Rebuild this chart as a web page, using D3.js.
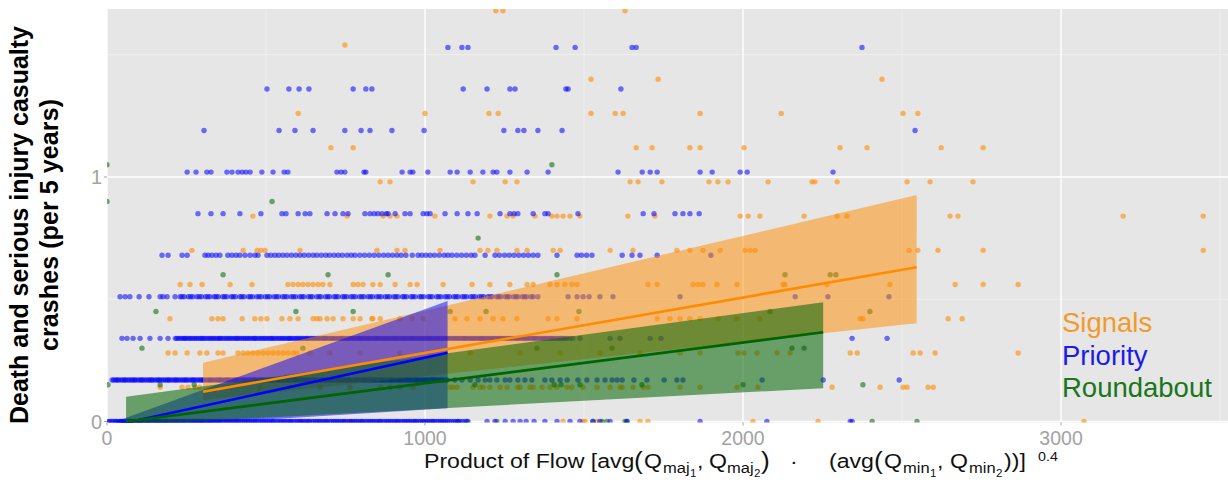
<!DOCTYPE html>
<html>
<head>
<meta charset="utf-8">
<script src="https://cdn.jsdelivr.net/npm/d3@7/dist/d3.min.js"></script>
<style>
body { margin: 0; background: #fff; }
svg { display: block; font-family: 'Liberation Sans', Arial, sans-serif; }
</style>
</head>
<body>
<svg id="chart" width="1228" height="485"></svg>
<script>
// crash rates per row: [y value, x values (product of flow)]
const signalsRows = [
    [0, [610, 765, 1434, 1497, 1503, 1541, 1676, 1701, 2031, 2236, 3072]],
    [0.14, [167, 236, 255, 277, 292, 387, 481, 575, 670, 764, 859, 890, 921, 962, 1079, 1088, 1101, 1151, 1173, 1182, 1204, 1236, 1258, 1292, 1299, 1330, 1340, 1368, 1393, 1415, 1447, 1462, 1497, 1541, 1582, 1613, 1620, 1654, 1686, 1701, 1802, 1865, 1981, 2047, 2280, 2431, 2503, 2516, 2582, 2598]],
    [0.28, [192, 214, 252, 292, 314, 349, 365, 412, 428, 443, 459, 475, 491, 506, 522, 538, 554, 569, 585, 597, 638, 701, 796, 921, 1016, 1142, 1299, 1425, 1550, 1676, 1802, 1865, 1984, 2003, 2044, 2107, 2148, 2337, 2359, 2535, 2557, 2604, 2865]],
    [0.42, [198, 330, 349, 365, 425, 465, 484, 503, 550, 575, 601, 648, 660, 670, 692, 711, 742, 774, 796, 833, 836, 859, 921, 959, 994, 1094, 1132, 1173, 1214, 1245, 1289, 1387, 1415, 1478, 1730, 1770, 1802, 1833, 1865, 1922, 1981, 2053, 2368, 2377, 2645, 2689]],
    [0.56, [230, 261, 299, 387, 456, 569, 585, 601, 616, 632, 648, 664, 679, 701, 774, 789, 805, 836, 859, 906, 953, 975, 1057, 1148, 1204, 1267, 1321, 1340, 1393, 1415, 1440, 1462, 1478, 1701, 1730, 1843, 1859, 1874, 1918, 1981, 2126, 2132, 2264, 2462, 2667, 2755, 2865]],
    [0.70, [267, 428, 472, 484, 497, 607, 849, 912, 937, 1047, 1173, 1198, 1226, 1289, 1321, 1403, 1425, 1582, 1654, 1792, 1833, 1874, 1928, 2006, 2022, 2038, 2522, 2550, 2613, 2755, 3447]],
    [0.84, [459, 755, 868, 890, 912, 1031, 1204, 1258, 1277, 1346, 1399, 1415, 1434, 1456, 1487, 1638, 1723, 1991, 2016, 2053, 2192, 2296, 2327, 2651, 2676, 3195, 3447]],
    [0.98, [859, 890, 1151, 1252, 1289, 1645, 1670, 1745, 1893, 1921, 1953, 2079, 2217, 2226, 2296, 2516, 2588, 2723]],
    [1.12, [704, 774, 1664, 1714, 1833, 1865, 2003, 2305, 2390, 2623, 2755]],
    [1.26, [601, 1000, 1201, 1230, 1522, 1598, 1623, 1865, 2120, 2503, 2550]],
    [1.40, [1522, 1733, 2437]],
    [1.54, [748]],
    [1.68, [1223, 1245, 1629]]
];

const priorityRows = [
    [0, [3, 14, 25, 33, 46, 55, 68, 77, 90, 101, 112, 124, 133, 146, 157, 168, 180, 189, 202, 213, 224, 236, 245, 258, 269, 280, 292, 301, 314, 325, 336, 348, 357, 370, 381, 392, 404, 413, 426, 437, 448, 460, 469, 482, 493, 504, 516, 525, 538, 549, 560, 572, 581, 594, 605, 616, 628, 637, 650, 661, 672, 684, 693, 706, 717, 728, 740, 749, 762, 773, 784, 796, 805, 818, 829, 840, 852, 861, 874, 885, 896, 908, 917, 930, 941, 952, 964, 973, 986, 997, 1008, 1020, 1029, 1042, 1053, 1064, 1076, 1090, 1103, 1118, 1135,
        8, 19, 29, 40, 50, 62, 73, 84, 96, 107, 118, 129, 140, 151, 163, 174, 185, 196, 208, 219, 230, 241, 252, 264, 275, 286, 297, 308, 320, 331, 342, 353, 364, 376, 387, 398, 409, 420, 432, 443, 454, 465, 476, 488, 499, 510, 521, 532, 544, 555, 566, 577, 588, 600, 611, 622, 633, 644, 656, 667, 678, 689, 700, 712, 723, 734, 745, 756, 768, 779, 790, 801, 812, 824, 835, 846, 857, 868, 880, 891, 902, 913, 924, 936, 947, 958, 969, 980, 992, 1003, 1014, 1025, 1036, 1048, 1059, 1070, 1083, 1096, 1110, 1126,
        1195, 1220, 1252, 1277, 1299, 1318, 1343, 1377, 1415, 1456, 1487, 1528, 1550, 1582, 1635, 1865, 2075, 2337, 2343]],
    [0.17, [16, 27, 36, 49, 58, 70, 81, 90, 103, 112, 124, 135, 144, 157, 166, 178, 189, 198, 211, 220, 232, 243, 252, 265, 274, 286, 297, 306, 319, 328, 340, 351, 360, 373, 382, 394, 405, 414, 427, 436, 448, 459, 468, 481, 490, 502, 513, 522, 535, 544, 556, 567, 576, 589, 598, 610, 621, 630, 643, 652, 664, 675, 684, 697, 706, 718, 729, 738, 751, 760, 772, 783, 792, 805, 814, 826, 837, 846, 859, 868, 880, 891, 900, 913, 922, 934, 945, 954, 967, 976, 988, 999, 1008, 1021, 1030, 1042, 1053, 1069,
        21, 32, 43, 54, 64, 76, 86, 97, 108, 118, 130, 140, 151, 162, 172, 184, 194, 205, 216, 226, 238, 248, 259, 270, 280, 292, 302, 313, 324, 334, 346, 356, 367, 378, 388, 400, 410, 421, 432, 442, 454, 464, 475, 486, 496, 508, 518, 529, 540, 550, 562, 572, 583, 594, 604, 616, 626, 637, 648, 658, 670, 680, 691, 702, 712, 724, 734, 745, 756, 766, 778, 788, 799, 810, 820, 832, 842, 853, 864, 874, 886, 896, 907, 918, 928, 940, 950, 961, 972, 982, 994, 1004, 1015, 1026, 1036, 1048, 1060,
        1094, 1116, 1142, 1167, 1189, 1204, 1226, 1252, 1267, 1292, 1314, 1336, 1377, 1399, 1425, 1447, 1481, 1509, 1541, 1566, 1588, 1604, 1620, 1657, 1698, 1752, 1792, 1811, 2060, 2252, 2491]],
    [0.34, [47, 63, 82, 104, 135, 167, 192, 215, 226, 238, 247, 259, 270, 281, 293, 302, 314, 325, 336, 348, 357, 369, 380, 391, 403, 412, 424, 435, 446, 458, 467, 479, 490, 501, 513, 522, 534, 545, 556, 568, 577, 589, 600, 611, 623, 632, 644, 655, 666, 678, 687, 699, 710, 721, 733, 742, 754, 765, 776, 788, 797, 809, 820, 831, 843, 852, 864, 875, 886, 898, 907, 919, 930, 941, 953, 962, 974, 985, 996, 1008, 1017, 1029, 1040, 1051, 1063, 1072, 1084, 1095, 1106, 1118, 1127, 1139, 1150, 1161, 1173, 1182, 1194, 1205, 1216, 1228, 1237, 1249, 1260, 1271, 1283, 1292, 1304, 1315, 1326, 1338, 1347, 1359, 1370, 1381, 1393, 1402, 1414, 1425, 1436, 1448, 1465,
        220, 232, 243, 253, 264, 276, 287, 298, 308, 320, 331, 342, 353, 363, 375, 386, 397, 408, 418, 430, 441, 452, 463, 473, 485, 496, 507, 518, 528, 540, 551, 562, 573, 583, 595, 606, 617, 628, 638, 650, 661, 672, 683, 693, 705, 716, 727, 738, 748, 760, 771, 782, 793, 803, 815, 826, 837, 848, 858, 870, 881, 892, 903, 913, 925, 936, 947, 958, 968, 980, 991, 1002, 1013, 1023, 1035, 1046, 1057, 1068, 1078, 1090, 1101, 1112, 1123, 1133, 1145, 1156, 1167, 1178, 1188, 1200, 1211, 1222, 1233, 1243, 1255, 1266, 1277, 1288, 1298, 1310, 1321, 1332, 1343, 1353, 1365, 1376, 1387, 1398, 1408, 1420, 1431, 1442, 1456,
        1487, 1582, 1613, 1708, 1742, 2343, 2453]],
    [0.51, [41, 57, 72, 101, 132, 167, 176, 189, 214, 230, 243, 256, 270, 283, 297, 310, 324, 337, 350, 364, 377, 391, 404, 418, 431, 445, 458, 471, 485, 498, 512, 525, 539, 552, 566, 579, 593, 606, 619, 633, 646, 660, 673, 687, 700, 714, 727, 741, 754, 767, 781, 794, 808, 821, 835, 848, 862, 875, 889, 902, 915, 929, 942, 956, 969, 983, 996, 1010, 1023, 1037, 1050, 1063, 1077, 1090, 1104, 1117, 1131, 1144, 1158, 1171, 1185, 1198, 1211, 1225, 1238, 1252, 1265, 1279, 1292, 1306, 1319, 1333, 1355,
        236, 263, 290, 317, 343, 370, 397, 424, 451, 478, 505, 532, 559, 586, 613, 640, 667, 694, 720, 747, 774, 801, 828, 855, 882, 908, 935, 962, 989, 1016, 1043, 1070, 1097, 1124, 1151, 1178, 1205, 1232, 1259, 1286, 1313, 1340,
        1450, 1478, 1497, 1516, 1550, 1591, 1802, 2164, 2267, 2459]],
    [0.68, [173, 192, 236, 252, 308, 318, 330, 343, 355, 380, 393, 406, 418, 434, 450, 465, 475, 503, 515, 528, 540, 553, 566, 580, 594, 607, 620, 634, 648, 660, 674, 688, 700, 714, 727, 740, 755, 768, 780, 795, 810, 825, 840, 855, 870, 884, 898, 912, 925, 940, 960, 978, 990, 1003, 1016, 1030, 1045, 1060, 1072, 1085, 1100, 1115, 1130, 1145, 1157, 1189, 1220, 1234, 1250, 1265, 1280, 1295, 1310, 1325, 1340, 1355, 1415, 1478, 1492, 1508, 1525, 1620, 1651, 1676, 1730, 1899]],
    [0.85, [286, 327, 365, 418, 484, 550, 563, 601, 623, 638, 692, 717, 742, 758, 811, 827, 840, 852, 865, 878, 884, 906, 937, 953, 994, 1006, 1016, 1063, 1101, 1135, 1164, 1236, 1267, 1280, 1292, 1340, 1377, 1387, 1481, 1686, 1720, 1786, 1811, 1833, 1862]],
    [1.02, [252, 280, 314, 327, 377, 393, 412, 425, 437, 450, 487, 522, 557, 569, 723, 736, 748, 808, 814, 928, 953, 962, 1009, 1079, 1101, 1142, 1182, 1214, 1226, 1267, 1321, 1387, 1607, 1683, 1708, 1730, 1865, 1903, 1991, 2013, 2283]],
    [1.19, [305, 541, 591, 648, 748, 799, 827, 896, 997, 1248, 1292, 1311, 1355, 1431, 2541]],
    [1.36, [503, 572, 604, 635, 774, 814, 833, 1120, 1195, 1267, 1283, 1443, 1450, 1616]],
    [1.53, [1072, 1116, 1135, 1412, 1472, 1651, 1664, 2374]]
];

const roundaboutRows = [
    [0, [41, 72, 104, 1104, 1132, 1226, 1528, 1557, 1572, 1629, 1635, 2406, 2547]],
    [0.15, [3, 167, 274, 1157, 1406, 1428, 1487, 1682, 2000, 2377]],
    [0.30, [110, 616, 1352, 1588, 2154, 2192]],
    [0.45, [154, 594, 774, 1079, 1192, 1484, 2085, 2399]],
    [0.60, [365, 695, 884, 1415, 2132, 2274, 2292]],
    [0.75, [1167]],
    [0.90, [0, 519]],
    [1.05, [0, 1399]]
];

// fitted lines and their bands: start and end of each
const signalsFitX = [302, 2546];
const signalsFit = [0.122, 0.631];
const signalsLower = [0.088, 0.402];
const signalsUpper = [0.240, 0.926];

const priorityFitX = [28, 1071];
const priorityFit = [-0.014, 0.281];
const priorityLower = [-0.029, 0.054];
const priorityUpper = [0, 0.493];

const roundaboutFitX = [60, 2252];
const roundaboutFit = [0.0, 0.365];
const roundaboutLower = [-0.014, 0.136];
const roundaboutUpper = [0.101, 0.4875];

const xTicks = [0, 1000, 2000, 3000];
const xMinor = [500, 1500, 2500, 3500];
const yTicks = [0, 1];
const yMinor = [0.5, 1.5];

const legendLabels = ['Signals', 'Priority', 'Roundabout'];
const legendColors = ['#f39a2c', '#1c1ce6', '#1b751b'];

const colors = {signals: '#ff8c00', priority: '#0000ff', roundabout: '#006400'};

const panelLeft = 107, panelRight = 1228, panelTop = 9, panelBottom = 422.5;

const svg = d3.select('#chart');
const x = d3.scaleLinear().domain([0, 3525]).range([panelLeft, panelRight]);
const y = d3.scaleLinear().domain([0, 1.687]).range([421.5, panelTop]);

svg.append('defs').append('clipPath')
    .attr('id', 'panel-clip')
    .append('rect')
    .attr('x', panelLeft).attr('y', panelTop)
    .attr('width', panelRight - panelLeft).attr('height', panelBottom - panelTop);

// panel + grid
svg.append('rect')
    .attr('x', panelLeft).attr('y', panelTop)
    .attr('width', panelRight - panelLeft).attr('height', panelBottom - panelTop)
    .attr('fill', '#e6e6e6');

const grid = svg.append('g').attr('clip-path', 'url(#panel-clip)');
grid.selectAll('.xminor').data(xMinor).enter().append('line')
    .attr('x1', d => x(d)).attr('x2', d => x(d))
    .attr('y1', panelTop).attr('y2', panelBottom)
    .attr('stroke', '#f1f1f1').attr('stroke-width', 0.8);
grid.selectAll('.yminor').data(yMinor).enter().append('line')
    .attr('x1', panelLeft).attr('x2', panelRight)
    .attr('y1', d => y(d)).attr('y2', d => y(d))
    .attr('stroke', '#f1f1f1').attr('stroke-width', 0.8);
grid.selectAll('.xmajor').data(xTicks).enter().append('line')
    .attr('x1', d => x(d)).attr('x2', d => x(d))
    .attr('y1', panelTop).attr('y2', panelBottom)
    .attr('stroke', '#fff').attr('stroke-width', 1.4);
grid.selectAll('.ymajor').data(yTicks).enter().append('line')
    .attr('x1', panelLeft).attr('x2', panelRight)
    .attr('y1', d => y(d)).attr('y2', d => y(d))
    .attr('stroke', '#fff').attr('stroke-width', 1.4);

function flatten(rows) {
    const pts = [];
    rows.forEach(r => r[1].forEach(v => pts.push({x: v, y: r[0]})));
    return pts;
}

const plot = svg.append('g').attr('clip-path', 'url(#panel-clip)');

function plotPoints(rows, color, opacity) {
    plot.append('g').selectAll('circle')
        .data(flatten(rows))
        .enter()
        .append('circle')
        .attr('cx', d => x(d.x))
        .attr('cy', d => y(d.y))
        .attr('r', 2.7)
        .attr('fill', color)
        .attr('fill-opacity', opacity);
}

plotPoints(signalsRows, colors.signals, 0.6);
plotPoints(roundaboutRows, colors.roundabout, 0.55);
plotPoints(priorityRows, colors.priority, 0.55);

function zip3(xs, lo, hi) {
    return xs.map((e, i) => ({x: e, lo: lo[i], hi: hi[i]}));
}

function plotBand(xs, lo, hi, color, opacity) {
    const area = d3.area()
        .x(d => x(d.x))
        .y0(d => y(d.lo))
        .y1(d => y(d.hi));
    plot.append('path')
        .datum(zip3(xs, lo, hi))
        .attr('d', area)
        .attr('fill', color)
        .attr('fill-opacity', opacity);
}

function plotFit(xs, ys, color) {
    const line = d3.line().x(d => x(d[0])).y(d => y(d[1]));
    plot.append('path')
        .datum(xs.map((e, i) => [e, ys[i]]))
        .attr('d', line)
        .attr('fill', 'none')
        .attr('stroke', color)
        .attr('stroke-width', 2.6);
}

plotBand(signalsFitX, signalsLower, signalsUpper, colors.signals, 0.5);
plotBand(priorityFitX, priorityLower, priorityUpper, colors.priority, 0.5);
plotBand(roundaboutFitX, roundaboutLower, roundaboutUpper, colors.roundabout, 0.55);
plotFit(signalsFitX, signalsFit, colors.signals);
plotFit(priorityFitX, priorityFit, colors.priority);
plotFit(roundaboutFitX, roundaboutFit, colors.roundabout);

// axes
const tickGrey = '#a3a3a3';
svg.selectAll('.xtick').data(xTicks).enter().append('line')
    .attr('x1', d => x(d)).attr('x2', d => x(d))
    .attr('y1', panelBottom).attr('y2', panelBottom + 3)
    .attr('stroke', tickGrey);
svg.selectAll('.xlab').data(xTicks).enter().append('text')
    .attr('x', d => x(d)).attr('y', 445)
    .attr('text-anchor', 'middle')
    .attr('font-size', 19.5)
    .attr('fill', tickGrey)
    .text(d => d);
svg.selectAll('.ytick').data(yTicks).enter().append('line')
    .attr('x1', panelLeft - 3).attr('x2', panelLeft)
    .attr('y1', d => y(d)).attr('y2', d => y(d))
    .attr('stroke', tickGrey);
svg.selectAll('.ylab').data(yTicks).enter().append('text')
    .attr('x', 102).attr('y', d => y(d) + 7)
    .attr('text-anchor', 'end')
    .attr('font-size', 20)
    .attr('fill', tickGrey)
    .text(d => d);

// y title
const yTitle = svg.append('g')
    .attr('transform', 'translate(0,225) rotate(-90)')
    .attr('font-weight', 'bold')
    .attr('font-size', 25)
    .attr('fill', '#000')
    .attr('text-anchor', 'middle');
yTitle.append('text').attr('x', 0).attr('y', 28)
    .attr('textLength', 398)
    .text('Death and serious injury casualty');
yTitle.append('text').attr('x', 0).attr('y', 58)
    .attr('textLength', 252)
    .text('crashes (per 5 years)');

// x title, set piece by piece: [text, left x, font size, baseline shift]
const xTitleBase = 468;
const xTitleParts = [
    ['Product of Flow [avg', 424, 21, 0],
    ['(', 634, 24, 1],
    ['Q', 644, 21, 0],
    ['maj', 663, 15, 5],
    ['1', 690, 10.5, 9],
    [',', 697, 21, 0],
    ['Q', 709, 21, 0],
    ['maj', 727, 15, 5],
    ['2', 754, 10.5, 9],
    [')', 761, 24, 1],
    ['\u00b7', 790, 21, 0],
    ['(avg', 829, 21, 0],
    ['(', 874, 24, 1],
    ['Q', 884, 21, 0],
    ['min', 903, 15, 5],
    ['1', 930, 10.5, 9],
    [',', 937, 21, 0],
    ['Q', 950, 21, 0],
    ['min', 969, 15, 5],
    ['2', 996, 10.5, 9],
    ['))]', 1004, 21, 0],
    ['0.4', 1038, 13, -7]
];
svg.append('g').selectAll('text')
    .data(xTitleParts)
    .enter()
    .append('text')
    .attr('transform', d => 'translate(' + d[1] + ',' + (xTitleBase + d[3]) + ') scale(1.1,1)')
    .attr('font-size', d => d[2])
    .attr('fill', '#111')
    .text(d => d[0]);

// legend labels
svg.selectAll('.legend').data(legendLabels).enter().append('text')
    .attr('x', 1062)
    .attr('y', (d, i) => 332 + i * 32.5)
    .attr('font-size', 27.5)
    .attr('fill', (d, i) => legendColors[i])
    .text(d => d);
</script>
</body>
</html>
